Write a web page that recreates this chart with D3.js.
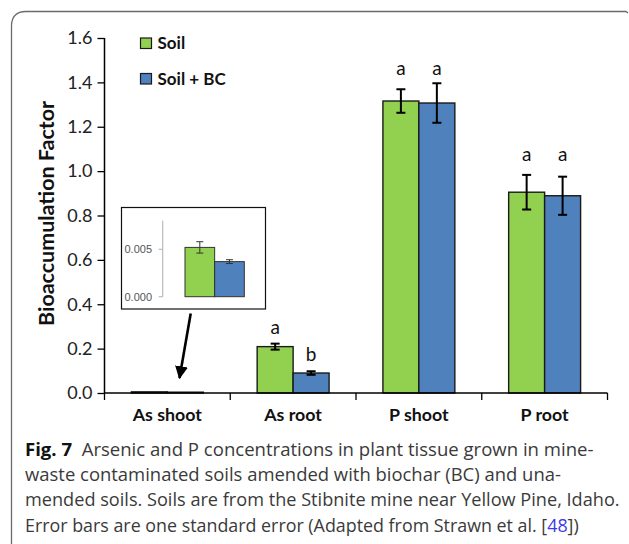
<!DOCTYPE html>
<html><head><meta charset="utf-8">
<script src="https://cdn.jsdelivr.net/npm/d3@7"></script>
<style>body{margin:0;background:#fff}svg{display:block}</style>
</head><body><svg id="c" width="629" height="544"></svg>
<script>
const categories = ["As shoot", "As root", "P shoot", "P root"];
const seriesNames = ["Soil", "Soil + BC"];
const soil = [0.0052, 0.209, 1.316, 0.905];
const soilBC = [0.0037, 0.090, 1.307, 0.889];
const soilErr = [0.0006, 0.0135, 0.053, 0.078];
const soilBCErr = [0.0002, 0.008, 0.089, 0.086];
const soilLetters = ["", "a", "a", "a"];
const soilBCLetters = ["", "b", "a", "a"];
const yTicks = [0, 0.2, 0.4, 0.6, 0.8, 1.0, 1.2, 1.4, 1.6];
const insetTicks = [0, 0.005];
const captionLines = [
  [["Fig. 7", true], ["  Arsenic and P concentrations in plant tissue grown in mine-", false]],
  [["waste contaminated soils amended with biochar (BC) and una-", false]],
  [["mended soils. Soils are from the Stibnite mine near Yellow Pine, Idaho.", false]],
  [["Error bars are one standard error (Adapted from Strawn et al. [", false], ["48", false, "link"], ["])", false]]
];

const colors = ["#92d050", "#4f81bd"];
const svg = d3.select("#c");
svg.append("rect").attr("width", 629).attr("height", 544).attr("fill", "#fff");
// frame
svg.append("path").attr("d", "M11.5,544 L11.5,26 Q11.5,11.5 26,11.5 L626,11.5 L628,13")
  .attr("fill", "none").attr("stroke", "#6a6a6a").attr("stroke-width", 1.3);

const F = "Lato, 'Open Sans', sans-serif";
const x0 = 104.5, x1 = 607.5, yTop = 38, yBot = 393;
const x = d3.scaleBand().domain(categories).range([x0, x1]).paddingInner(0).paddingOuter(0);
const y = d3.scaleLinear().domain([0, 1.6]).range([yBot, yTop]);
const barW = x.bandwidth() * 0.286;
const xs = d3.scaleBand().domain(seriesNames).range([0, barW * 2]);

const data = categories.map((c, i) => ({
  cat: c,
  vals: [
    {s: seriesNames[0], v: soil[i], e: soilErr[i], l: soilLetters[i], k: 0},
    {s: seriesNames[1], v: soilBC[i], e: soilBCErr[i], l: soilBCLetters[i], k: 1}
  ]
}));

// axes
const yAxis = d3.axisLeft(y).tickValues(yTicks).tickFormat(d3.format(".1f")).tickSize(7).tickPadding(5);
const ga = svg.append("g").attr("transform", `translate(${x0},0)`).call(yAxis);
ga.select(".domain").attr("stroke", "#000").attr("stroke-width", 1.5).attr("d", `M0,${yTop}V${yBot}`);
ga.selectAll(".tick line").attr("stroke", "#000").attr("stroke-width", 1.3);
ga.selectAll(".tick text").attr("font-family", F).attr("font-size", 18).attr("fill", "#222");

const groups = svg.append("g").selectAll("g").data(data).join("g")
  .attr("transform", d => `translate(${x(d.cat) + x.bandwidth() / 2 - barW},0)`);
groups.selectAll("rect").data(d => d.vals).join("rect")
  .attr("x", d => xs(d.s)).attr("width", xs.bandwidth())
  .attr("y", d => y(d.v)).attr("height", d => yBot - y(d.v))
  .attr("fill", d => colors[d.k]).attr("stroke", "#1a1a1a").attr("stroke-width", 1.4);
// error bars
const eb = groups.selectAll("g.eb").data(d => d.vals.filter(v => v.v > 0.05)).join("g").attr("class", "eb")
  .attr("transform", d => `translate(${xs(d.s) + xs.bandwidth() / 2},0)`);
eb.append("line").attr("y1", d => y(d.v + d.e)).attr("y2", d => y(d.v - d.e)).attr("stroke", "#000").attr("stroke-width", 2);
eb.append("line").attr("x1", -4.5).attr("x2", 4.5).attr("y1", d => y(d.v + d.e)).attr("y2", d => y(d.v + d.e)).attr("stroke", "#000").attr("stroke-width", 2);
eb.append("line").attr("x1", -4.5).attr("x2", 4.5).attr("y1", d => y(d.v - d.e)).attr("y2", d => y(d.v - d.e)).attr("stroke", "#000").attr("stroke-width", 2);
// letters
groups.each(function (g) {
  const same = g.vals[0].l === g.vals[1].l;
  const topG = g.vals[0].v + g.vals[0].e;
  d3.select(this).selectAll("text.let").data(g.vals.filter(v => v.l)).join("text").attr("class", "let")
    .attr("x", d => xs(d.s) + xs.bandwidth() / 2)
    .attr("y", d => same ? y(topG) - 14 : y(d.v + d.e) - 10)
    .attr("text-anchor", "middle").attr("font-family", F).attr("font-size", 19).attr("fill", "#111")
    .text(d => d.l);
});

// x axis
const xAxisLine = svg.append("g");
xAxisLine.append("line").attr("x1", x0).attr("x2", x1).attr("y1", yBot).attr("y2", yBot).attr("stroke", "#000").attr("stroke-width", 1.5);
xAxisLine.selectAll("line.t").data(categories.concat(["end"])).join("line").attr("class", "t")
  .attr("x1", d => d === "end" ? x1 : x(d)).attr("x2", d => d === "end" ? x1 : x(d))
  .attr("y1", yBot).attr("y2", yBot + 7).attr("stroke", "#000").attr("stroke-width", 1.3);
xAxisLine.selectAll("text").data(categories).join("text")
  .attr("x", d => x(d) + x.bandwidth() / 2).attr("y", 421)
  .attr("text-anchor", "middle").attr("font-family", F).attr("font-weight", 700).attr("font-size", 17.8).attr("fill", "#111")
  .text(d => d);

// y title
svg.append("text").attr("transform", `translate(54,${(yTop + yBot) / 2 - 2}) rotate(-90)`)
  .attr("text-anchor", "middle").attr("font-family", F).attr("font-weight", 700).attr("font-size", 20.5).attr("fill", "#111")
  .attr("textLength", 225).attr("lengthAdjust", "spacingAndGlyphs")
  .text("Bioaccumulation Factor");

// legend
const lg = svg.append("g").selectAll("g").data(seriesNames).join("g")
  .attr("transform", (d, i) => `translate(140.5,${38 + i * 35.5})`);
lg.append("rect").attr("width", 11).attr("height", 10.5).attr("fill", (d, i) => colors[i]).attr("stroke", "#1a1a1a").attr("stroke-width", 1.2);
lg.append("text").attr("x", 17).attr("y", 11).attr("font-family", F).attr("font-weight", 700).attr("font-size", 17).attr("fill", "#111").text(d => d);

// inset
const ins = svg.append("g");
ins.append("rect").attr("x", 121.5).attr("y", 207.5).attr("width", 144).attr("height", 101.5).attr("fill", "#fff").attr("stroke", "#111").attr("stroke-width", 1.2);
const yi = d3.scaleLinear().domain([0, 0.005]).range([296.7, 249.3]);
const ixAxis = 162.7;
ins.append("line").attr("x1", ixAxis).attr("x2", ixAxis).attr("y1", yi(0.008)).attr("y2", yi(0)).attr("stroke", "#bbb").attr("stroke-width", 1.2);
ins.selectAll("line.it").data(insetTicks).join("line").attr("class", "it")
  .attr("x1", ixAxis - 4).attr("x2", ixAxis).attr("y1", d => yi(d)).attr("y2", d => yi(d)).attr("stroke", "#bbb").attr("stroke-width", 1.2);
ins.selectAll("text").data(insetTicks).join("text")
  .attr("x", 152).attr("y", d => yi(d) + 4).attr("text-anchor", "end")
  .attr("font-family", "'Liberation Sans', sans-serif").attr("font-size", 11).attr("fill", "#555")
  .text(d => d3.format(".3f")(d));
const ib = data[0].vals;
const ixs = d3.scaleBand().domain(seriesNames).range([185, 244.3]);
ins.selectAll("rect.ib").data(ib).join("rect").attr("class", "ib")
  .attr("x", d => ixs(d.s)).attr("width", ixs.bandwidth())
  .attr("y", d => yi(d.v)).attr("height", d => yi(0) - yi(d.v))
  .attr("fill", d => colors[d.k]).attr("stroke", "#333").attr("stroke-width", 1);
const ieb = ins.selectAll("g.ieb").data(ib).join("g").attr("class", "ieb")
  .attr("transform", d => `translate(${ixs(d.s) + ixs.bandwidth() / 2},0)`);
ieb.append("line").attr("y1", d => yi(d.v + d.e)).attr("y2", d => yi(d.v - d.e)).attr("stroke", "#333").attr("stroke-width", 1);
ieb.append("line").attr("x1", -3.5).attr("x2", 3.5).attr("y1", d => yi(d.v + d.e)).attr("y2", d => yi(d.v + d.e)).attr("stroke", "#333").attr("stroke-width", 1);
ieb.append("line").attr("x1", -3.5).attr("x2", 3.5).attr("y1", d => yi(d.v - d.e)).attr("y2", d => yi(d.v - d.e)).attr("stroke", "#333").attr("stroke-width", 1);

// arrow
svg.append("defs").append("marker").attr("id", "ah").attr("viewBox", "0 0 10 10").attr("refX", 9).attr("refY", 5)
  .attr("markerWidth", 5).attr("markerHeight", 5).attr("markerUnits", "strokeWidth").attr("orient", "auto")
  .append("path").attr("d", "M0,0 L10,5 L0,10 Z").attr("fill", "#000");
svg.append("line").attr("x1", 190.7).attr("y1", 313.5).attr("x2", 179.5).attr("y2", 378)
  .attr("stroke", "#000").attr("stroke-width", 2.6).attr("marker-end", "url(#ah)");

// caption
const CF = "'Open Sans', sans-serif";
const capWidths = [569, 536, 595, 554];
const cap = svg.append("g");
const lines = cap.selectAll("text").data(captionLines).join("text")
  .attr("x", 0).attr("y", 0)
  .attr("font-family", CF).attr("font-size", 18.5).attr("fill", "#3a3a3a")
  .attr("xml:space", "preserve").style("white-space", "pre");
lines.selectAll("tspan").data(d => d).join("tspan")
  .attr("font-weight", d => d[1] ? 700 : 400)
  .attr("fill", d => d[2] === "link" ? "#3a3ae8" : (d[1] ? "#111" : "#3a3a3a"))
  .text(d => d[0]);
lines.each(function (d, i) {
  const w = this.getComputedTextLength();
  const sx = capWidths[i] / w;
  d3.select(this).attr("transform", `translate(25,${456 + i * 25.2}) scale(${sx},1)`);
});
</script></body></html>
